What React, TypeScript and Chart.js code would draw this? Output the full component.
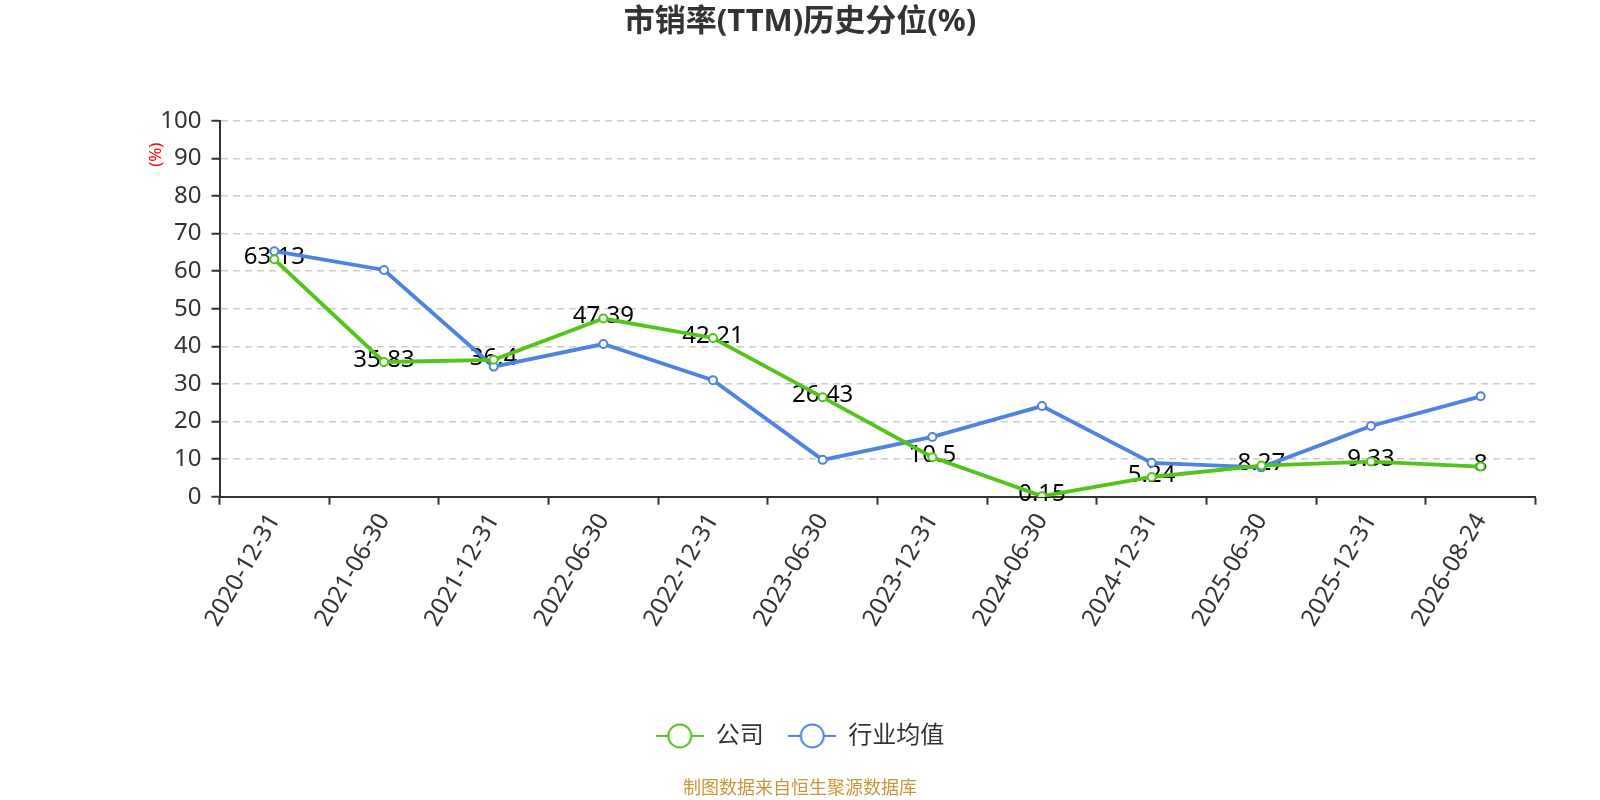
import React, { useEffect, useRef } from 'react';
import Chart from 'chart.js/auto';

const FONT = '"Noto Sans", "Noto Sans CJK SC", sans-serif';

// x categories (report dates)
const categories = [
  '2020-12-31', '2021-06-30', '2021-12-31', '2022-06-30', '2022-12-31', '2023-06-30',
  '2023-12-31', '2024-06-30', '2024-12-31', '2025-06-30', '2025-12-31', '2026-08-24',
];

// company percentile (labelled in the picture)
const companyValues = [63.13, 35.83, 36.4, 47.39, 42.21, 26.43, 10.5, 0.15, 5.24, 8.27, 9.33, 8];

// industry average percentile
const industryValues = [65.3, 60.3, 34.6, 40.6, 31.0, 9.8, 15.9, 24.1, 9.0, 7.8, 18.8, 26.7];

const seriesNames = ['公司', '行业均值'];
const seriesColors = ['#52C41A', '#4E82E4'];

const makeLegendMarker = (color: string) => {
  const c = document.createElement('canvas');
  c.width = 48;
  c.height = 28;
  const g = c.getContext('2d');
  if (g) {
    g.strokeStyle = color;
    g.lineWidth = 2;
    g.beginPath();
    g.moveTo(0, 14);
    g.lineTo(48, 14);
    g.stroke();
    g.beginPath();
    g.arc(24, 14, 11.5, 0, Math.PI * 2);
    g.fillStyle = '#fff';
    g.fill();
    g.stroke();
  }
  return c;
};

// draws the company values at their points
const valueLabels = {
  id: 'valueLabels',
  beforeDatasetsDraw(chart: any) {
    const { ctx } = chart;
    const meta = chart.getDatasetMeta(0);
    const data = chart.data.datasets[0].data;
    ctx.save();
    ctx.font = `24px ${FONT}`;
    ctx.fillStyle = '#000';
    ctx.textAlign = 'center';
    ctx.textBaseline = 'middle';
    meta.data.forEach((pt: any, i: number) => {
      ctx.fillText(String(data[i]), pt.x, pt.y - 2);
    });
    ctx.restore();
  },
};

// small red unit label next to the y axis
const unitLabel = {
  id: 'unitLabel',
  afterDraw(chart: any) {
    const { ctx, chartArea } = chart;
    ctx.save();
    ctx.translate(chartArea.left - 63.5, chartArea.top + 34);
    ctx.rotate(-Math.PI / 2);
    ctx.font = `17px ${FONT}`;
    ctx.fillStyle = '#FF0000';
    ctx.textAlign = 'center';
    ctx.textBaseline = 'middle';
    ctx.fillText('(%)', 0, 0);
    ctx.restore();
  },
};

const App: React.FC = () => {
  const chartRef = useRef<HTMLCanvasElement>(null);
  const chartInstance = useRef<Chart | null>(null);

  useEffect(() => {
    document.body.style.margin = '0';
    if (!chartRef.current) return;
    if (chartInstance.current) {
      chartInstance.current.destroy();
    }
    const ctx = chartRef.current.getContext('2d');
    if (!ctx) return;

    const markers = seriesColors.map(makeLegendMarker);

    chartInstance.current = new Chart(ctx, {
      type: 'line',
      data: {
        labels: categories,
        datasets: [
          {
            label: seriesNames[0],
            data: companyValues,
            borderColor: seriesColors[0],
            backgroundColor: '#fff',
            borderWidth: 3.8,
            pointRadius: 4,
            pointBorderWidth: 2,
            pointBackgroundColor: '#fff',
            pointBorderColor: seriesColors[0],
            tension: 0,
          },
          {
            label: seriesNames[1],
            data: industryValues,
            borderColor: seriesColors[1],
            backgroundColor: '#fff',
            borderWidth: 3.8,
            pointRadius: 4,
            pointBorderWidth: 2,
            pointBackgroundColor: '#fff',
            pointBorderColor: seriesColors[1],
            tension: 0,
          },
        ],
      },
      options: {
        animation: false,
        responsive: true,
        maintainAspectRatio: false,
        layout: {
          padding: { left: 64.5, right: 64.5, top: 0, bottom: 0 },
        },
        plugins: {
          title: {
            display: true,
            text: '市销率(TTM)历史分位(%)',
            color: '#333',
            font: { family: FONT, size: 31, weight: 'bold' },
            padding: { top: 3.9, bottom: 79.6 },
          },
          subtitle: {
            display: true,
            text: '制图数据来自恒生聚源数据库',
            position: 'bottom',
            color: '#C9973A',
            font: { family: FONT, size: 18 },
            padding: { top: 20.5, bottom: 0 },
          },
          legend: {
            position: 'bottom',
            labels: {
              usePointStyle: true,
              pointStyleWidth: 48,
              padding: 24.5,
              color: '#333',
              font: { family: FONT, size: 24 },
              generateLabels: (chart: any) =>
                chart.data.datasets.map((ds: any, i: number) => ({
                  text: ds.label,
                  pointStyle: markers[i],
                  fillStyle: '#fff',
                  strokeStyle: seriesColors[i],
                  lineWidth: 0,
                  hidden: !chart.isDatasetVisible(i),
                  datasetIndex: i,
                  fontColor: '#333',
                })),
            },
          },
          tooltip: { enabled: false },
        },
        scales: {
          x: {
            offset: true,
            afterFit: (scale: any) => {
              scale.height = 202.7;
            },
            grid: {
              offset: true,
              drawOnChartArea: false,
              drawTicks: true,
              tickLength: 8,
              tickColor: '#333',
              tickWidth: 2,
            },
            border: { display: true, color: '#333', width: 2 },
            ticks: {
              color: '#333',
              font: { family: FONT, size: 24 },
              minRotation: 60,
              maxRotation: 60,
              autoSkip: false,
              padding: 4,
            },
          },
          y: {
            min: 0,
            max: 100,
            afterFit: (scale: any) => {
              scale.width = 155;
            },
            grid: {
              color: '#CCCCCC',
              lineWidth: 1.5,
              drawTicks: true,
              tickLength: 8,
              tickColor: '#333',
              tickWidth: 2,
            },
            border: { display: true, color: '#333', width: 2, dash: [7, 5] },
            ticks: {
              stepSize: 10,
              color: '#333',
              font: { family: FONT, size: 24 },
              padding: 10,
            },
          },
        },
      },
      plugins: [valueLabels, unitLabel],
    });

    return () => {
      if (chartInstance.current) {
        chartInstance.current.destroy();
        chartInstance.current = null;
      }
    };
  }, []);

  return (
    <div style={{ width: '1600px', height: '800px', background: '#fff' }}>
      <canvas ref={chartRef}></canvas>
    </div>
  );
};

export default App;
